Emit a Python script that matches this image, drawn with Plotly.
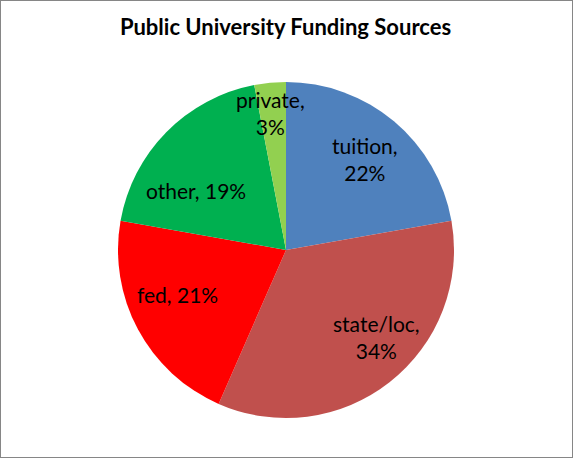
import math
import plotly.graph_objects as go

categories = ["tuition", "state/loc", "fed", "other", "private"]
values = [22, 34, 21, 19, 3]
colors = ["#4F81BD", "#C0504D", "#FF0000", "#00B050", "#92D050"]
label_breaks = [True, True, False, False, True]
label_radius = [0.714, 0.75, 0.70, 0.64, 0.82]
label_angle_offset = [1, -8, 6, -11, -1.2]

W, H = 573, 458
cx, cy, R = 286, 250, 168

fig = go.Figure()
fig.add_trace(go.Pie(
    labels=categories, values=values, sort=False, direction="clockwise",
    rotation=0, marker=dict(colors=colors, line=dict(width=0)),
    textinfo="none", hoverinfo="label+percent", showlegend=False,
    domain=dict(x=[(cx - R) / W, (cx + R) / W], y=[(H - cy - R) / H, (H - cy + R) / H]),
))

total = sum(values)
cum = 0
annotations = []
for cat, v, br, rf, off in zip(categories, values, label_breaks, label_radius, label_angle_offset):
    mid = (cum + v / 2) / total * 2 * math.pi + math.radians(off)
    cum += v
    px = cx + rf * R * math.sin(mid)
    py = cy - rf * R * math.cos(mid)
    pct = f"{round(v / total * 100)}%"
    text = f"{cat},<br>{pct}" if br else f"{cat}, {pct}"
    annotations.append(dict(x=px / W, y=1 - py / H, xref="paper", yref="paper",
                            xanchor="center", yanchor="middle",
                            text=text, showarrow=False, align="center",
                            font=dict(family="Lato", size=21, color="#000000")))

fig.update_layout(
    width=W, height=H, margin=dict(l=0, r=0, t=0, b=0),
    paper_bgcolor="white", plot_bgcolor="white",
    title=dict(text="<b>Public University Funding Sources</b>", x=285.5 / W, xanchor="center",
               y=1 - 27 / H, yanchor="middle",
               font=dict(family="Lato", size=22, color="#000000")),
    annotations=annotations,
    shapes=[dict(type="rect", xref="paper", yref="paper", x0=0, y0=0, x1=1, y1=1,
                 line=dict(color="#868686", width=2))],
)
fig.write_html("out.html", config={"displayModeBar": False},
               post_script="document.body.style.margin='0';document.body.style.overflow='hidden';")
